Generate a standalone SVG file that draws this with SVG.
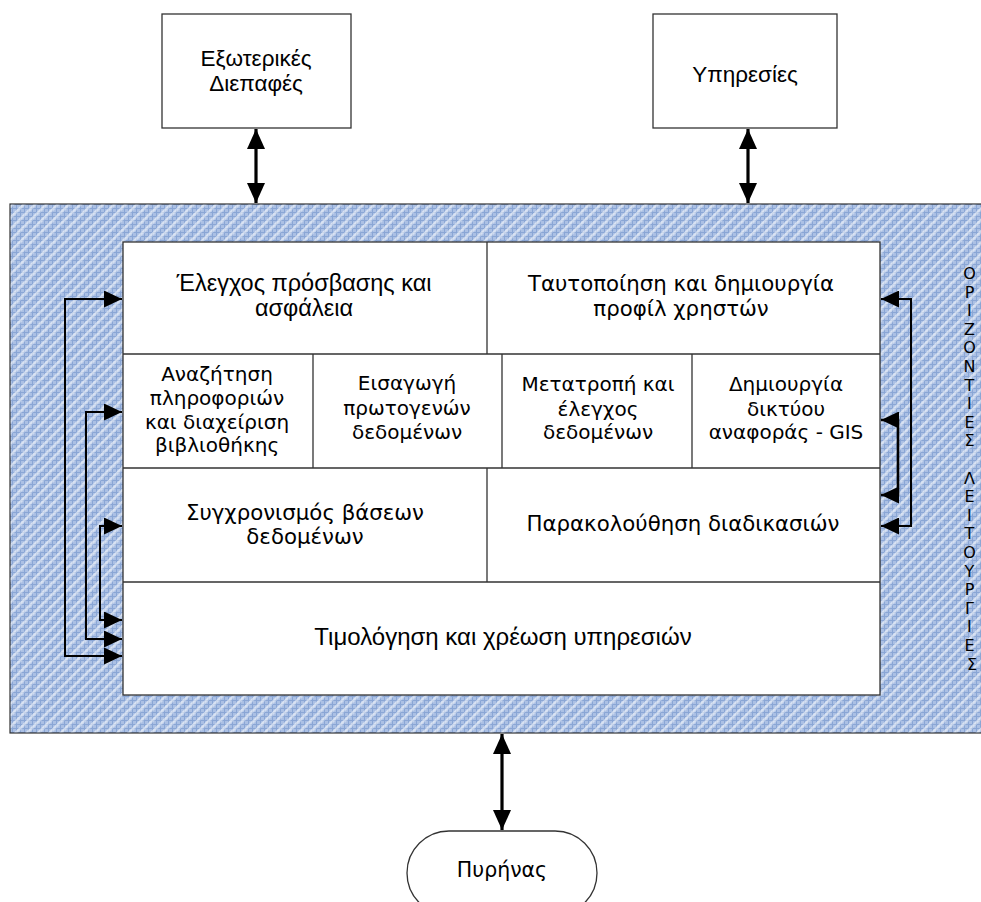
<svg xmlns="http://www.w3.org/2000/svg" width="981" height="902" viewBox="0 0 981 902">
  <style>
    .box { fill: #ffffff; stroke: #333333; stroke-width: 1.3; }
    .div { stroke: #333333; stroke-width: 1.3; fill: none; }
    .v { font-family: "DejaVu Sans", Verdana, sans-serif; font-size: 21.3px; fill: #000; text-anchor: middle; }
    .vs { font-size: 20px; }
    .a { font-family: "Liberation Sans", Arial, sans-serif; font-size: 23.5px; fill: #000; text-anchor: middle; }
    .side { font-family: "DejaVu Sans", Verdana, sans-serif; font-size: 16px; fill: #000; text-anchor: middle; }
    .thick { stroke: #000; stroke-width: 3.2; fill: none; }
    .thin { stroke: #000; stroke-width: 2; fill: none; }
  </style>
  <defs>
    <pattern id="grid" width="4" height="4" patternUnits="userSpaceOnUse">
      <rect width="4" height="4" fill="#abc0e4"/>
      <path d="M0 0.5H4M0.5 0V4" stroke="#8aa6d5" stroke-width="1"/>
    </pattern>
    <pattern id="stripes" width="8" height="8" patternUnits="userSpaceOnUse" patternTransform="rotate(45)">
      <rect width="2.6" height="8" fill="#ffffff" fill-opacity="0.55"/>
    </pattern>
    <marker id="bigHead" viewBox="0 0 20 18" refX="20" refY="9" markerWidth="20" markerHeight="18" markerUnits="userSpaceOnUse" orient="auto-start-reverse">
      <path d="M0 0L20 9L0 18Z" fill="#000"/>
    </marker>
    <marker id="head" viewBox="0 0 18 17" refX="18" refY="8.5" markerWidth="18" markerHeight="17" markerUnits="userSpaceOnUse" orient="auto-start-reverse">
      <path d="M0 0L18 8.5L0 17Z" fill="#000"/>
    </marker>
  </defs>

  <rect width="981" height="902" fill="#ffffff"/>

  <!-- hatched frame of the platform -->
  <g id="platform">
    <rect x="10" y="204" width="980" height="529" fill="url(#grid)" stroke="#333333" stroke-width="1.2"/>
    <rect x="10.6" y="204.6" width="980" height="527.8" fill="url(#stripes)"/>
  </g>

  <!-- central block of functions -->
  <g id="functions">
    <rect class="box" x="123" y="242" width="757" height="453"/>
    <path class="div" d="M123 354H880M123 468H880M123 582H880M487 242V354M487 468V582M313 354V468M502 354V468M692 354V468"/>
  </g>

  <g id="access-control">
    <text class="a" x="304" y="291">Έλεγχος πρόσβασης και</text>
    <text class="a" x="304" y="316">ασφάλεια</text>
  </g>
  <g id="user-profiles">
    <text class="v" x="681" y="291">Ταυτοποίηση και δημιουργία</text>
    <text class="v" x="681" y="316">προφίλ χρηστών</text>
  </g>
  <g id="library-search">
    <text class="v vs" x="217" y="381">Αναζήτηση</text>
    <text class="v vs" x="217" y="405">πληροφοριών</text>
    <text class="v vs" x="217" y="429">και διαχείριση</text>
    <text class="v vs" x="217" y="452">βιβλιοθήκης</text>
  </g>
  <g id="raw-data-input">
    <text class="v vs" x="407" y="390">Εισαγωγή</text>
    <text class="v vs" x="407" y="415">πρωτογενών</text>
    <text class="v vs" x="407" y="439">δεδομένων</text>
  </g>
  <g id="data-conversion">
    <text class="v vs" x="598" y="391">Μετατροπή και</text>
    <text class="v vs" x="598" y="416">έλεγχος</text>
    <text class="v vs" x="598" y="439">δεδομένων</text>
  </g>
  <g id="gis-network">
    <text class="v vs" x="786" y="391">Δημιουργία</text>
    <text class="v vs" x="786" y="416">δικτύου</text>
    <text class="v vs" x="786" y="439">αναφοράς - GIS</text>
  </g>
  <g id="db-sync">
    <text class="v" x="305" y="520">Συγχρονισμός βάσεων</text>
    <text class="v" x="305" y="544">δεδομένων</text>
  </g>
  <g id="process-monitoring">
    <text class="v" x="683" y="531">Παρακολούθηση διαδικασιών</text>
  </g>
  <g id="billing">
    <text class="a" x="503" y="645" style="font-size:24px">Τιμολόγηση και χρέωση υπηρεσιών</text>
  </g>

  <!-- outside nodes -->
  <g id="external-interfaces">
    <rect class="box" x="162" y="14" width="189" height="114"/>
    <text class="a" x="256" y="66" style="font-size:22.5px">Εξωτερικές</text>
    <text class="a" x="256" y="91" style="font-size:22.5px">Διεπαφές</text>
  </g>
  <g id="services">
    <rect class="box" x="653" y="14" width="184" height="114"/>
    <text class="a" x="745" y="82" style="font-size:22.5px">Υπηρεσίες</text>
  </g>
  <g id="core">
    <rect class="box" x="407" y="831" width="190" height="84" rx="42" ry="42"/>
    <text class="v" x="502" y="877" style="font-size:20.5px">Πυρήνας</text>
  </g>

  <!-- vertical side label -->
  <g id="side-label">
    <text class="side">
      <tspan x="972" y="279">Ο</tspan>
      <tspan x="972" y="297.6">Ρ</tspan>
      <tspan x="972" y="316.2">Ι</tspan>
      <tspan x="972" y="334.8">Ζ</tspan>
      <tspan x="972" y="353.4">Ο</tspan>
      <tspan x="972" y="372">Ν</tspan>
      <tspan x="972" y="390.6">Τ</tspan>
      <tspan x="972" y="409.2">Ι</tspan>
      <tspan x="972" y="427.8">Ε</tspan>
      <tspan x="972" y="446.4">Σ</tspan>
      <tspan x="972" y="483.6">Λ</tspan>
      <tspan x="972" y="502.2">Ε</tspan>
      <tspan x="972" y="520.8">Ι</tspan>
      <tspan x="972" y="539.4">Τ</tspan>
      <tspan x="972" y="558">Ο</tspan>
      <tspan x="972" y="576.6">Υ</tspan>
      <tspan x="972" y="595.2">Ρ</tspan>
      <tspan x="972" y="613.8">Γ</tspan>
      <tspan x="972" y="632.4">Ι</tspan>
      <tspan x="972" y="651">Ε</tspan>
      <tspan x="972" y="669.6">Σ</tspan>
    </text>
  </g>

  <!-- connectors -->
  <g id="connectors">
    <path class="thick" d="M256 129V203" marker-start="url(#bigHead)" marker-end="url(#bigHead)"/>
    <path class="thick" d="M748 129V203" marker-start="url(#bigHead)" marker-end="url(#bigHead)"/>
    <path class="thick" d="M502 734V830" marker-start="url(#bigHead)" marker-end="url(#bigHead)"/>

    <path class="thin" d="M122 299H65V656H122" marker-start="url(#head)" marker-end="url(#head)"/>
    <path class="thin" d="M122 412H86V639H122" marker-start="url(#head)" marker-end="url(#head)"/>
    <path class="thin" d="M122 526H100V620H122" marker-start="url(#head)" marker-end="url(#head)"/>

    <path class="thin" d="M881 299H911V526H881" marker-start="url(#head)" marker-end="url(#head)"/>
    <path class="thin" d="M881 420H898V495H881" marker-start="url(#head)" marker-end="url(#head)" style="stroke-width:2.6"/>
  </g>
</svg>
